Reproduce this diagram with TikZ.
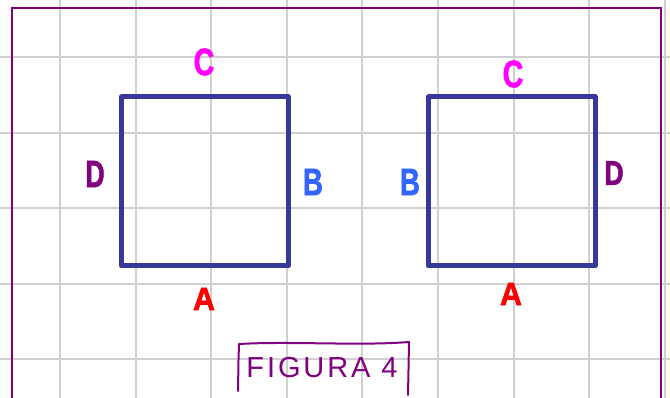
\documentclass[tikz,border=0pt]{standalone}
\usepackage{fontspec}
\usepackage{graphicx}
\setmainfont{Liberation Sans}
\newfontfamily\labfont{Liberation Sans Bold}[FakeBold=2]
\newfontfamily\figfont{Liberation Sans}[LetterSpace=10]
\definecolor{gridgray}{RGB}{208,208,208}
\definecolor{framepurple}{RGB}{128,0,128}
\definecolor{sqblue}{RGB}{56,56,155}
\definecolor{labmag}{RGB}{255,0,255}
\definecolor{labblue}{RGB}{51,102,255}
\definecolor{labred}{RGB}{255,0,0}
\begin{document}
\begin{tikzpicture}[x=1pt,y=-1pt,
  gridline/.style={draw=gridgray,line width=2pt},
  frameline/.style={draw=framepurple,line width=2.2pt},
  sq/.style={draw=sqblue,line width=5pt,line join=round,inner sep=0pt,
    minimum width=166.5pt,minimum height=169pt},
  lab/.style={font=\labfont\fontsize{38}{38}\selectfont,inner sep=0pt},
  figbox/.style={draw=framepurple,line width=2pt,line cap=round,line join=round},
  figlab/.style={font=\figfont\fontsize{29}{29}\selectfont,text=framepurple,inner sep=0pt}]
\useasboundingbox (0,0) rectangle (670,398);
\clip (0,0) rectangle (670,398);
% grid
\foreach \k in {0,...,8}{
  \draw[gridline] ({60+75.6*\k},0) -- ({60+75.6*\k},398);
}
\foreach \k in {0,...,4}{
  \draw[gridline] (0,{57.3+75.5*\k}) -- (670,{57.3+75.5*\k});
}
% frame
\draw[frameline] (12.3,420) -- (12.3,8.3) -- (660.7,8.3) -- (660.7,420);
% squares
\node[sq] (sqL) at (204.8,181.5) {};
\node[sq] (sqR) at (511.8,181.5) {};
% labels left
\node[lab,text=labmag] (cL) at (204,62) {\scalebox{0.75}[1]{C}};
\node[lab,text=framepurple] (dL) at (95,174) {\scalebox{0.7}[1]{D}};
\node[lab,text=labblue] (bL) at (313,182) {\scalebox{0.72}[1]{B}};
\node[lab,text=labred] (aL) at (204,299) {\scalebox{0.8}[0.85]{A}};
% labels right
\node[lab,text=labmag] (cR) at (513,74) {\scalebox{0.75}[1]{C}};
\node[lab,text=labblue] (bR) at (410,182) {\scalebox{0.72}[1]{B}};
\node[lab,text=framepurple] (dR) at (614,173) {\scalebox{0.7}[0.9]{D}};
\node[lab,text=labred] (aR) at (511,294) {\scalebox{0.8}[0.85]{A}};
% figure caption
\node[figlab] (fig) at (322,368) {FIGURA 4};
\draw[figbox] (238,391) -- (238.5,360) -- (239,344) .. controls (290,341) and (360,346) .. (409,342) -- (408.5,370) -- (408,395);
\end{tikzpicture}
\end{document}
